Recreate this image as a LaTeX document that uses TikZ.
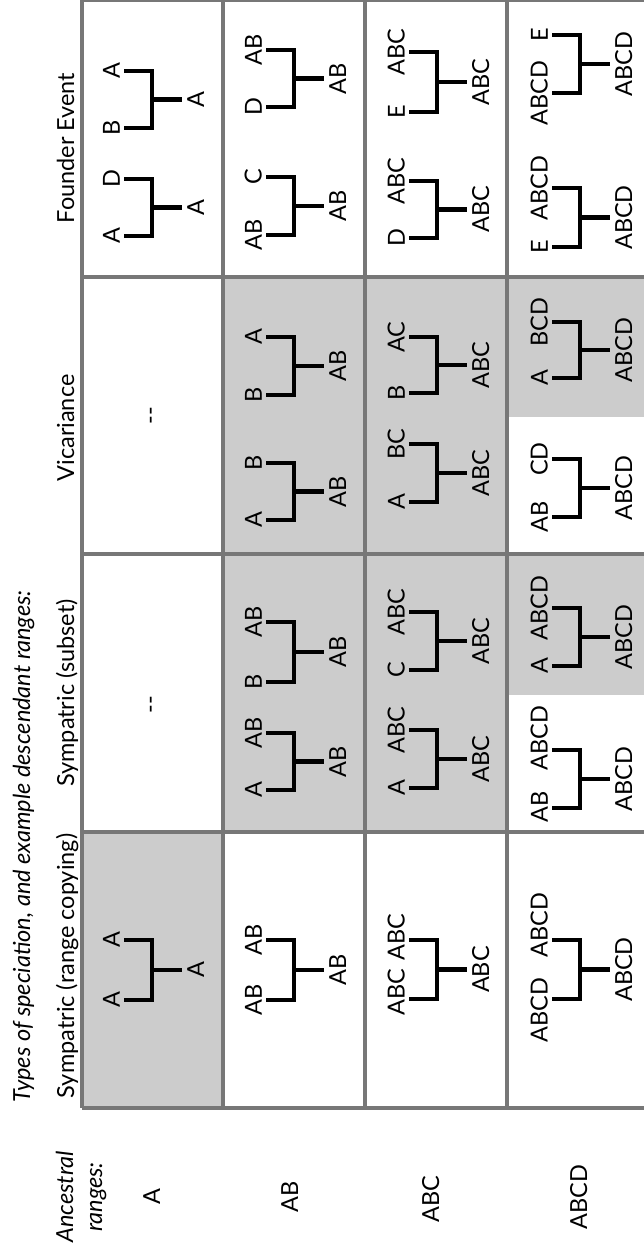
\documentclass[tikz,border=0pt]{standalone}
\usepackage{fontspec}
\setmainfont{Lato}
\usetikzlibrary{calc}
\definecolor{gridgray}{HTML}{777777}
\definecolor{cellgray}{HTML}{CCCCCC}
\tikzset{
  lab/.style={rotate=90, inner sep=0pt, font=\fontsize{23.5}{28}\selectfont},
  tiplab/.style={lab, anchor=south},
  anclab/.style={lab, anchor=north},
  headlab/.style={lab, anchor=base},
  branch/.style={line width=4.3pt, black, line join=miter},
  gridline/.style={line width=3.5pt, gridgray},
  cellshade/.style={fill=cellgray, draw=none},
}
% #1 name, #2 x of tips, #3 y top tip, #4 y bottom tip,
% #5 y of top label, #6 y of bottom label, #7 top label, #8 bottom label, #9 ancestor
\newcommand\sptreeL[9]{%
  \coordinate (#1t) at (#2,#3);
  \coordinate (#1b) at (#2,#4);
  \coordinate (#1v) at ({#2+28},{(#3+#4)/2});
  \coordinate (#1s) at ({#2+58},{(#3+#4)/2});
  \node[tiplab] (#1lt) at ({#2-4},#5) {#7};
  \node[tiplab] (#1lb) at ({#2-4},#6) {#8};
  \node[anclab] (#1la) at ({#2+63},{(#3+#4)/2}) {#9};
  \draw[branch] (#1t) -| (#1v) |- (#1b);
  \draw[branch] (#1v) -- (#1s);
}
\newcommand\sptree[7]{\sptreeL{#1}{#2}{#3}{#4}{#3}{#4}{#5}{#6}{#7}}
\begin{document}
\begin{tikzpicture}[x=1pt,y=-1pt]
\useasboundingbox (0,0) rectangle (644,1249);
% shaded cells
\fill[cellshade] (82,832) rectangle (223,1108);
\fill[cellshade] (223,277) rectangle (507,832);
\fill[cellshade] (507,277) rectangle (644,417);
\fill[cellshade] (507,554) rectangle (644,695);
% grid
\draw[gridline] (82,0) -- (644,0);
\draw[gridline] (82,0) -- (82,1108);
\draw[gridline] (223,0) -- (223,1108);
\draw[gridline] (365,0) -- (365,1108);
\draw[gridline] (507,0) -- (507,1108);
\draw[gridline] (82,277) -- (644,277);
\draw[gridline] (82,554) -- (644,554);
\draw[gridline] (82,832) -- (644,832);
\draw[gridline] (82,1108) -- (644,1108);
% title and headers
\node[lab, anchor=base west, font=\fontsize{23.5}{28}\selectfont\itshape] (title) at (30,1103) {Types of speciation, and example descendant ranges:};
\node[headlab] (hfound) at (74,148) {Founder Event};
\node[headlab] (hvic) at (74,428) {Vicariance};
\node[headlab] (hsub) at (74,693) {Sympatric (subset)};
\node[headlab] (hcopy) at (74,966) {Sympatric (range copying)};
\node[headlab, font=\fontsize{23.5}{28}\selectfont\itshape] (anc1) at (73,1197) {Ancestral};
\node[headlab, font=\fontsize{23.5}{28}\selectfont\itshape] (anc2) at (102,1197) {ranges:};
\node[headlab] (rA) at (160,1197) {A};
\node[headlab] (rAB) at (298,1197) {AB};
\node[headlab] (rABC) at (439,1199) {ABC};
\node[headlab] (rABCD) at (587,1197) {ABCD};
% empty cells
\node[lab, anchor=center] (dvic) at (154,416) {-{}-};
\node[lab, anchor=center] (dsub) at (154,705) {-{}-};
% founder event
\sptree{fa1}{124}{71}{128}{A}{B}{A}
\sptree{fa2}{124}{179}{236}{D}{A}{A}
\sptree{fb1}{266}{50}{107}{AB}{D}{AB}
\sptree{fb2}{266}{177}{235}{C}{AB}{AB}
\sptree{fc1}{409}{52}{112}{ABC}{E}{ABC}
\sptree{fc2}{409}{181}{238}{ABC}{D}{ABC}
\sptree{fd1}{552}{35}{93}{E}{ABCD}{ABCD}
\sptree{fd2}{552}{188}{247}{ABCD}{E}{ABCD}
% vicariance
\sptree{vb1}{266}{337}{395}{A}{B}{AB}
\sptree{vb2}{266}{463}{520}{B}{A}{AB}
\sptree{vc1}{409}{337}{393}{AC}{B}{ABC}
\sptree{vc2}{409}{444}{502}{BC}{A}{ABC}
\sptree{vd1}{552}{322}{378}{BCD}{A}{ABCD}
\sptree{vd2}{552}{459}{517}{CD}{AB}{ABCD}
% sympatric subset
\sptree{sb1}{266}{622}{682}{AB}{B}{AB}
\sptree{sb2}{266}{733}{790}{AB}{A}{AB}
\sptree{sc1}{409}{612}{670}{ABC}{C}{ABC}
\sptree{sc2}{409}{730}{788}{ABC}{A}{ABC}
\sptree{sd1}{552}{608}{666}{ABCD}{A}{ABCD}
\sptreeL{sd2}{552}{750}{808}{738}{807}{ABCD}{AB}{ABCD}
% sympatric range copying
\sptree{ca}{124}{940}{1000}{A}{A}{A}
\sptree{cb}{266}{940}{1000}{AB}{AB}{AB}
\sptreeL{cc}{409}{940}{999}{937}{992}{ABC}{ABC}{ABC}
\sptreeL{cd}{552}{940}{999}{925}{1010}{ABCD}{ABCD}{ABCD}
\end{tikzpicture}
\end{document}
